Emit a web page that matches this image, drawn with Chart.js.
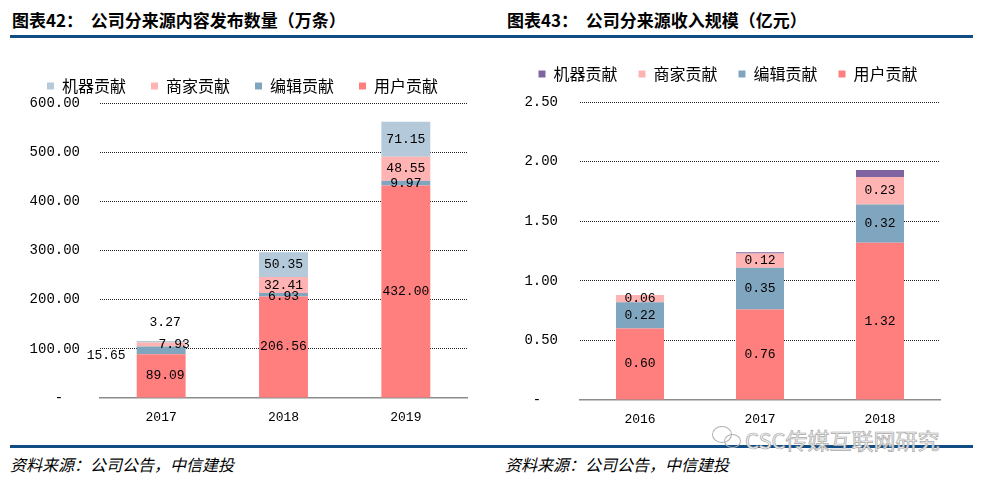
<!DOCTYPE html>
<html>
<head>
<meta charset="utf-8">
<script src="https://cdn.jsdelivr.net/npm/chart.js@4.4.1/dist/chart.umd.min.js"></script>
<style>
body{margin:0;width:986px;height:482px;background:#fff;position:relative;overflow:hidden;font-family:"Noto Sans CJK SC",sans-serif}
.title{position:absolute;top:7px;font-size:17px;font-weight:bold;color:#000;white-space:pre}
.rule{position:absolute;left:10px;width:963px;height:3px;background:#114d82}
.src{position:absolute;top:452px;font-size:16px;font-style:italic;color:#000}
.wm{position:absolute;left:745px;top:423px;font-size:22px;color:#f2f2f2;-webkit-text-stroke:0.7px #a8a8a8;white-space:nowrap}
.icon{position:absolute;width:18px;height:15px;border:1.4px solid #b0b0b0;border-radius:50%}
canvas{position:absolute}
</style>
</head>
<body>
<div class="title" style="left:12px">图表42：  公司分来源内容发布数量（万条）</div>
<div class="title" style="left:507px">图表43：  公司分来源收入规模（亿元）</div>
<div class="rule" style="top:35px"></div>
<div class="rule" style="top:445px"></div>
<div class="src" style="left:10px">资料来源：公司公告，中信建投</div>
<div class="src" style="left:505px">资料来源：公司公告，中信建投</div>
<div class="icon" style="left:712px;top:426px"></div>
<div class="icon" style="left:724px;top:434px;width:15px;height:12px"></div>
<div class="wm">CSC传媒互联网研究</div>
<canvas id="left" width="480" height="380" style="left:12px;top:53px"></canvas>
<canvas id="right" width="480" height="390" style="left:506px;top:45px"></canvas>
<script>
// 图表42 内容发布数量（万条）
const contentYears = ['2017', '2018', '2019'];
const contentUser = [89.09, 206.56, 432.00];
const contentEditor = [15.65, 6.93, 9.97];
const contentMerchant = [7.93, 32.41, 48.55];
const contentMachine = [3.27, 50.35, 71.15];
const contentTicks = [0, 100, 200, 300, 400, 500, 600];

// 图表43 收入规模（亿元）
const revenueYears = ['2016', '2017', '2018'];
const revenueUser = [0.60, 0.76, 1.32];
const revenueEditor = [0.22, 0.35, 0.32];
const revenueMerchant = [0.06, 0.12, 0.23];
const revenueMachine = [0, 0.01, 0.06];
const revenueTicks = [0, 0.5, 1, 1.5, 2, 2.5];

const numFont = '"Liberation Mono", monospace';
const cjkFont = '"Noto Sans CJK SC", sans-serif';

const segLabels = {
    id: 'segLabels',
    afterDatasetsDraw(chart, args, opts) {
        const ctx = chart.ctx;
        ctx.save();
        ctx.font = '13px ' + numFont;
        ctx.fillStyle = '#000';
        ctx.textAlign = 'center';
        ctx.textBaseline = 'middle';
        chart.data.datasets.forEach((ds, di) => {
            if ((opts.hide || []).includes(di)) return;
            chart.getDatasetMeta(di).data.forEach((bar, i) => {
                const s = (opts.shift || {})[di + '-' + i] || [0, 0];
                ctx.fillText(ds.data[i].toFixed(2), bar.x + s[0], (bar.y + bar.base) / 2 + s[1]);
            });
        });
        ctx.restore();
    }
};

function legendHeight(h) {
    return {
        id: 'legendH',
        beforeInit(chart) {
            const fit = chart.legend.fit;
            chart.legend.fit = function () { fit.call(this); this.height = h; };
        }
    };
}

function makeChart(el, years, user, editor, merchant, machine, machineColor, ticks, cfg) {
    const max = ticks[ticks.length - 1];
    return new Chart(document.getElementById(el), {
        type: 'bar',
        data: {
            labels: years,
            datasets: [
                { label: '用户贡献', data: user, backgroundColor: '#ff7f7f' },
                { label: '编辑贡献', data: editor, backgroundColor: '#80a6bf' },
                { label: '商家贡献', data: merchant, backgroundColor: '#ffb3b3' },
                { label: '机器贡献', data: machine, backgroundColor: machineColor }
            ]
        },
        options: {
            responsive: false,
            animation: false,
            devicePixelRatio: 1,
            categoryPercentage: 1,
            barPercentage: 0.4,
            layout: { padding: { left: cfg.padLeft, right: cfg.padRight, top: 0, bottom: 0 } },
            plugins: {
                tooltip: { enabled: false },
                legend: {
                    reverse: true,
                    labels: { boxWidth: 7, boxHeight: 7, padding: cfg.legendPad, color: '#000', font: { family: cjkFont, size: 16 } }
                },
                segLabels: { hide: cfg.hide, shift: cfg.shift }
            },
            scales: {
                x: {
                    stacked: true,
                    grid: { display: false },
                    border: { color: '#8c8c8c', width: 1.5 },
                    ticks: { padding: 4, color: '#000', font: { family: numFont, size: 13 } },
                    afterFit(s) { s.height = cfg.xHeight; }
                },
                y: {
                    stacked: true,
                    min: 0,
                    max: max,
                    afterBuildTicks(s) { s.ticks = ticks.map(v => ({ value: v })); },
                    afterFit(s) { s.width = cfg.yWidth; },
                    border: { display: false, dash: [1, 1] },
                    grid: {
                        drawTicks: false,
                        color: c => c.tick.value === 0 ? 'rgba(0,0,0,0)' : '#222',
                        lineWidth: 1
                    },
                    ticks: {
                        padding: cfg.yPad,
                        color: '#000',
                        font: { family: numFont, size: 14 },
                        callback: v => v === 0 ? '-  ' : Number(v).toFixed(2)
                    }
                }
            }
        },
        plugins: [segLabels, legendHeight(cfg.legendH)]
    });
}

makeChart('left', contentYears, contentUser, contentEditor, contentMerchant, contentMachine, '#b4c9d9', contentTicks, {
    padLeft: 6, padRight: 25, yWidth: 82, yPad: 20, xHeight: 35, legendH: 50, legendPad: 25,
    hide: [],
    shift: { '0-0': [4, 0], '1-0': [-55, 5], '2-0': [13, 0], '3-0': [4, -19], '1-1': [0, 2] }
});

makeChart('right', revenueYears, revenueUser, revenueEditor, revenueMerchant, revenueMachine, '#8064a2', revenueTicks, {
    padLeft: 10, padRight: 46, yWidth: 64, yPad: 22, xHeight: 35, legendH: 57, legendPad: 21,
    hide: [3],
    shift: {}
});
</script>
</body>
</html>
